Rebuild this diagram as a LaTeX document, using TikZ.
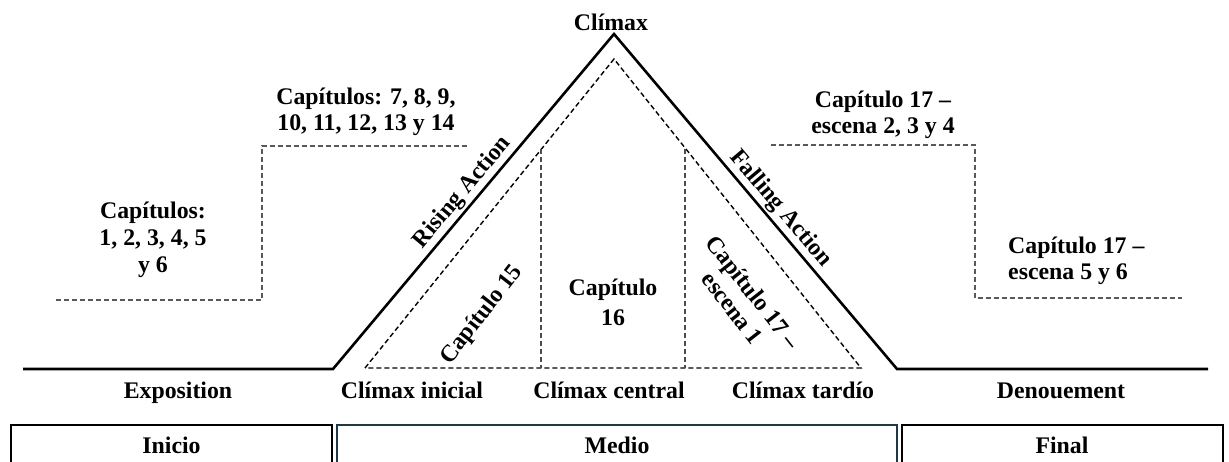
\documentclass[tikz,border=0pt]{standalone}
\usepackage{fontspec}
\setmainfont{Liberation Serif}
\definecolor{medioblue}{RGB}{31,56,72}
\begin{document}
\begin{tikzpicture}[x=1pt,y=-1pt,
  lbl/.style={font=\fontsize{23.8}{26}\selectfont\bfseries, inner sep=2pt, align=center},
  solidline/.style={line width=2.6pt, line join=miter, line cap=butt},
  stepdash/.style={line width=1.2pt, dash pattern=on 5pt off 3pt, black!65},
  innerdash/.style={line width=1.4pt, dash pattern=on 5pt off 3pt, line join=miter},
  vdash/.style={line width=1.1pt, dash pattern=on 5pt off 3pt, black!70},
  partbox/.style={line width=1.6pt}]
\useasboundingbox (0,0) rectangle (1229,462);
\clip (0,0) rectangle (1229,462);
% main structure
\coordinate (L0) at (23,369);
\coordinate (B1) at (333,369);
\coordinate (apex) at (614,34);
\coordinate (B2) at (897,369);
\coordinate (R0) at (1208,369);
\draw[solidline] (L0) -- (B1) -- (apex) -- (B2) -- (R0);
\path (B1) -- (apex) node[lbl, sloped, above, pos=0.5, inner sep=3pt] (rising) {Rising Action};
\path (apex) -- (B2) node[lbl, sloped, above, pos=0.55, inner sep=3pt] (falling) {Falling Action};
\node[lbl, anchor=south] (climax) at (611,33) {Clímax};
% inner dashed triangle
\coordinate (D1) at (365,368);
\coordinate (Dapex) at (614,59);
\coordinate (D2) at (861,368);
\draw[innerdash] (D1) -- (Dapex) -- (D2) -- cycle;
\coordinate (V1t) at (541,149);
\coordinate (V1b) at (541,368);
\coordinate (V2t) at (685,149);
\coordinate (V2b) at (685,368);
\draw[vdash] (V1t) -- (V1b);
\draw[vdash] (V2t) -- (V2b);
\node[lbl, rotate=52] (c15) at (482,315) {Capítulo 15};
\node[lbl, font=\fontsize{23.8}{30}\selectfont\bfseries] (c16) at (613,302) {Capítulo\\16};
\node[lbl, rotate=-52] (c17a) at (743,300) {Capítulo 17 –\\escena 1};
% step dashed lines
\coordinate (S1) at (56,300);
\coordinate (S2) at (262,300);
\coordinate (S3) at (262,146);
\coordinate (S4) at (467,146);
\draw[stepdash] (S1) -- (S2) -- (S3) -- (S4);
\coordinate (T1) at (771,145);
\coordinate (T2) at (975,145);
\coordinate (T3) at (975,298);
\coordinate (T4) at (1182,298);
\draw[stepdash] (T1) -- (T2) -- (T3) -- (T4);
\node[lbl, font=\fontsize{23.8}{27}\selectfont\bfseries] (c1) at (153,240) {Capítulos:\\1, 2, 3, 4, 5\\y 6};
\node[lbl, font=\fontsize{23.8}{25.5}\selectfont\bfseries] (c7) at (366,112) {Capítulos: 7, 8, 9,\\10, 11, 12, 13 y 14};
\node[lbl, font=\fontsize{23.8}{25.5}\selectfont\bfseries] (c17b) at (883,115) {Capítulo 17 –\\escena 2, 3 y 4};
\node[lbl, align=left, anchor=west, font=\fontsize{23.8}{25.5}\selectfont\bfseries] (c17c) at (1006,261) {Capítulo 17 –\\escena 5 y 6};
% bottom labels
\node[lbl, anchor=base] (expo) at (178,398) {Exposition};
\node[lbl, anchor=base] (cini) at (412,398) {Clímax inicial};
\node[lbl, anchor=base] (ccen) at (609,398) {Clímax central};
\node[lbl, anchor=base] (ctar) at (803,398) {Clímax tardío};
\node[lbl, anchor=base] (deno) at (1061,398) {Denouement};
% part boxes
\draw[partbox] (11,425) rectangle (332,475);
\draw[partbox, medioblue] (337,425) rectangle (897,475);
\draw[partbox] (902,425) rectangle (1223,475);
\node[lbl] (inicio) at (171.5,445) {Inicio};
\node[lbl] (medio) at (617,445) {Medio};
\node[lbl] (final) at (1062,445) {Final};
\end{tikzpicture}
\end{document}
